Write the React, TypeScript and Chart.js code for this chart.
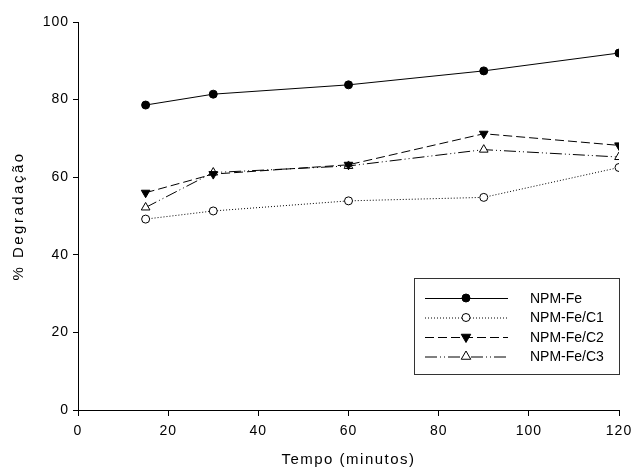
import React, { useEffect, useRef } from "react";
import { Chart, registerables } from "chart.js";

Chart.register(...registerables);

const tempos = [15, 30, 60, 90, 120];
const npmFe = [78.6, 81.4, 83.8, 87.4, 92.0];
const npmFeC1 = [49.2, 51.3, 53.9, 54.8, 62.5];
const npmFeC2 = [56.0, 60.8, 63.2, 71.2, 68.2];
const npmFeC3 = [52.2, 61.2, 62.9, 67.1, 65.2];
const seriesNames = ["NPM-Fe", "NPM-Fe/C1", "NPM-Fe/C2", "NPM-Fe/C3"];

const FONT = "Arial, 'Liberation Sans', sans-serif";

function drawMarker(ctx: any, style: string, rot: number, x: number, y: number, r: number) {
  ctx.beginPath();
  if (style === "circle") {
    ctx.arc(x, y, r, 0, Math.PI * 2);
  } else {
    const a0 = (rot * Math.PI) / 180;
    for (let k = 0; k < 3; k++) {
      const a = a0 - Math.PI / 2 + (k * 2 * Math.PI) / 3;
      const px = x + Math.cos(a) * r * 1.1;
      const py = y + Math.sin(a) * r * 1.1;
      if (k === 0) ctx.moveTo(px, py);
      else ctx.lineTo(px, py);
    }
    ctx.closePath();
  }
  ctx.fill();
  ctx.stroke();
}

const legendPlugin = {
  id: "boxLegend",
  afterDraw(chart: any) {
    const ctx = chart.ctx;
    const xs = chart.scales.x;
    const bx = 414;
    const by = 278;
    const bw = xs.right - bx;
    const bh = 96;
    ctx.save();
    ctx.strokeStyle = "#333";
    ctx.lineWidth = 1;
    ctx.strokeRect(bx + 0.5, by + 0.5, bw, bh);
    chart.data.datasets.forEach((ds: any, i: number) => {
      const y = by + 20 + i * 19.5;
      ctx.save();
      ctx.strokeStyle = "#000";
      ctx.lineWidth = 1;
      ctx.setLineDash(ds.borderDash || []);
      ctx.beginPath();
      ctx.moveTo(425, y + 0.5);
      ctx.lineTo(508, y + 0.5);
      ctx.stroke();
      ctx.restore();
      ctx.save();
      ctx.fillStyle = ds.pointBackgroundColor;
      ctx.strokeStyle = "#000";
      ctx.lineWidth = 1;
      drawMarker(ctx, ds.pointStyle, ds.pointRotation || 0, 466, y, ds.pointRadius);
      ctx.restore();
      ctx.fillStyle = "#000";
      ctx.font = `14px ${FONT}`;
      ctx.textBaseline = "middle";
      ctx.textAlign = "left";
      ctx.fillText(ds.label, 530, y + 1);
    });
    ctx.restore();
  },
};

function patchSpacing(s: any, labelSp: string, titleSp: string) {
  if (s._spPatched) return;
  s._spPatched = true;
  const dl = s.drawLabels.bind(s);
  const dt = s.drawTitle.bind(s);
  s.drawLabels = (ca: any) => {
    s.ctx.save();
    s.ctx.letterSpacing = labelSp;
    dl(ca);
    s.ctx.restore();
  };
  s.drawTitle = (ca: any) => {
    s.ctx.save();
    s.ctx.letterSpacing = titleSp;
    dt(ca);
    s.ctx.restore();
  };
}

export default function App() {
  const ref = useRef<HTMLCanvasElement>(null);
  useEffect(() => {
    document.body.style.margin = "0";
    const mk = (data: number[]) => data.map((v, i) => ({ x: tempos[i], y: v }));
    const chart = new Chart(ref.current!, {
      type: "line",
      data: {
        datasets: [
          {
            label: seriesNames[0],
            data: mk(npmFe),
            borderColor: "#000",
            borderWidth: 1,
            pointStyle: "circle",
            pointRadius: 4,
            pointBackgroundColor: "#000",
            pointBorderColor: "#000",
            borderDash: [],
          },
          {
            label: seriesNames[1],
            data: mk(npmFeC1),
            borderColor: "#000",
            borderWidth: 1,
            pointStyle: "circle",
            pointRadius: 4,
            pointBackgroundColor: "#fff",
            pointBorderColor: "#000",
            borderDash: [1, 2],
          },
          {
            label: seriesNames[2],
            data: mk(npmFeC2),
            borderColor: "#000",
            borderWidth: 1,
            pointStyle: "triangle",
            pointRotation: 180,
            pointRadius: 5,
            pointBackgroundColor: "#000",
            pointBorderColor: "#000",
            borderDash: [9, 4],
          },
          {
            label: seriesNames[3],
            data: mk(npmFeC3),
            borderColor: "#000",
            borderWidth: 1,
            pointStyle: "triangle",
            pointRadius: 5,
            pointBackgroundColor: "#fff",
            pointBorderColor: "#000",
            borderDash: [12, 3, 1, 3, 1, 3],
          },
        ] as any,
      },
      options: {
        animation: false,
        responsive: false,
        maintainAspectRatio: false,
        layout: { padding: { top: 22, right: 0, left: 0, bottom: 0 } },
        plugins: { legend: { display: false }, tooltip: { enabled: false } },
        scales: {
          x: {
            type: "linear",
            min: 0,
            max: 120,
            ticks: { stepSize: 20, color: "#000", font: { family: FONT, size: 14 }, padding: 7, maxRotation: 0 },
            grid: { drawOnChartArea: false, drawTicks: true, tickLength: 6, color: "#000" },
            border: { display: true, color: "#000", width: 1 },
            title: { display: true, text: "Tempo (minutos)", color: "#000", font: { family: FONT, size: 15 }, padding: { top: 11 } },
            afterFit: (s: any) => {
              s.height = 63;
              s.paddingRight = 13;
              s.paddingLeft = 0;
              patchSpacing(s, "1px", "1.5px");
            },
          },
          y: {
            min: 0,
            max: 100,
            ticks: { stepSize: 20, color: "#000", font: { family: FONT, size: 14 }, padding: 4 },
            grid: { drawOnChartArea: false, drawTicks: true, tickLength: 5, color: "#000" },
            border: { display: true, color: "#000", width: 1 },
            title: { display: true, text: "% Degradação", color: "#000", font: { family: FONT, size: 15 }, padding: { top: 10, bottom: 0 } },
            afterFit: (s: any) => {
              s.width = 78;
              patchSpacing(s, "1px", "2.5px");
            },
          },
        },
      } as any,
      plugins: [legendPlugin],
    });
    return () => chart.destroy();
  }, []);
  return (
    <div style={{ position: "absolute", left: 0, top: 0, width: 632, height: 473 }}>
      <canvas ref={ref} width={632} height={473} style={{ width: 632, height: 473 }} />
    </div>
  );
}
